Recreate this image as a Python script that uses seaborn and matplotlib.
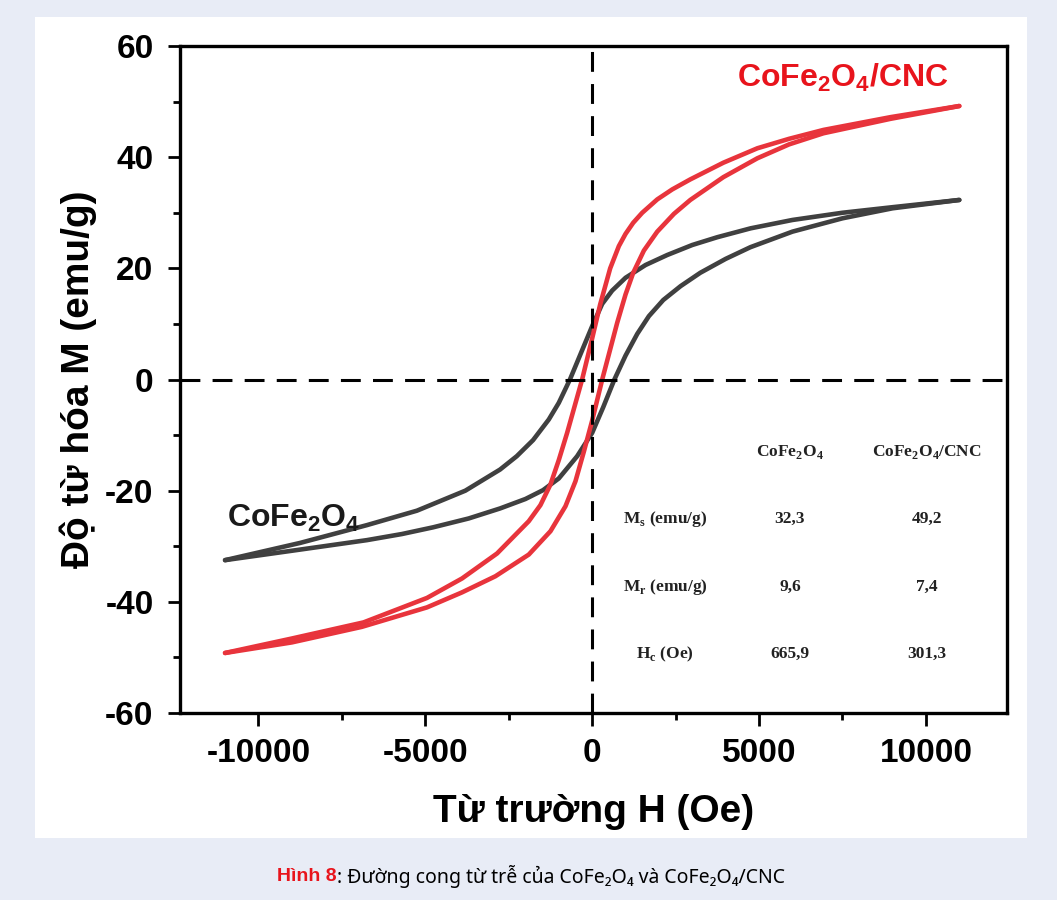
import numpy as np
import pandas as pd
import matplotlib
matplotlib.use("Agg")
import matplotlib.pyplot as plt
import seaborn as sns
from matplotlib.patches import Rectangle
from matplotlib.ticker import MultipleLocator

# ---------------- data ----------------
# CoFe2O4, descending branch (H from +11000 to -11000)
cfo_desc_H = [11000, 9000, 7500, 6000, 4750, 3750, 3000, 2250, 1600, 1000, 600, 300, 0,
              -333, -666, -1000, -1300, -1770, -2260, -2760, -3800, -5250, -6750,
              -8750, -11000]
cfo_desc_M = [32.3, 31.0, 30.0, 28.7, 27.2, 25.6, 24.2, 22.4, 20.6, 18.3, 16.0, 13.6, 9.6,
              4.8, 0.0, -4.2, -7.2, -10.9, -13.8, -16.2, -20.0, -23.6, -26.2,
              -29.4, -32.5]
# CoFe2O4, ascending branch (H from -11000 to +11000)
cfo_asc_H = [-11000, -8750, -6750, -5700, -4770, -3700, -2760, -2000, -1470, -1000,
             -450, 0, 330, 666, 1000, 1350, 1700, 2130, 2650, 3240, 4000, 4740,
             6000, 7500, 9000, 11000]
cfo_asc_M = [-32.5, -30.6, -28.9, -27.8, -26.6, -25.0, -23.2, -21.5, -19.9, -17.8,
             -13.8, -9.6, -5.0, 0.0, 4.3, 8.2, 11.4, 14.3, 16.8, 19.2, 21.7, 23.8,
             26.6, 29.0, 30.8, 32.3]
# CoFe2O4/CNC, descending branch
cnc_desc_H = [11000, 8940, 6930, 5900, 4950, 3930, 2940, 2400, 1950, 1500, 1230, 1000,
              800, 540, 240, 0, -301, -750, -1000, -1250, -1550, -1900, -2850,
              -3900, -4950, -6850, -9000, -11000]
cnc_desc_M = [49.2, 47.2, 44.9, 43.3, 41.6, 39.0, 36.0, 34.2, 32.4, 30.0, 28.2, 26.2,
              24.0, 20.0, 13.5, 7.4, 0.0, -9.6, -14.5, -18.9, -22.6, -25.5, -31.3,
              -35.8, -39.3, -43.7, -46.6, -49.2]
# CoFe2O4/CNC, ascending branch
cnc_asc_H = [-11000, -9000, -6900, -4950, -3900, -2900, -1900, -1250, -800, -500,
             -250, 0, 301, 750, 1000, 1230, 1550, 1950, 2450, 2940, 3930, 4950,
             5900, 6930, 8940, 11000]
cnc_asc_M = [-49.2, -47.3, -44.5, -41.0, -38.3, -35.4, -31.5, -27.3, -22.8, -18.3,
             -13.0, -7.4, 0.0, 10.2, 15.3, 19.2, 23.2, 26.6, 29.8, 32.3, 36.4, 39.8,
             42.3, 44.3, 46.9, 49.2]

x_ticks = [-10000, -5000, 0, 5000, 10000]
y_ticks = [-60, -40, -20, 0, 20, 40, 60]

table_cols = ["CoFe$_\\mathrm{2}$O$_\\mathrm{4}$", "CoFe$_\\mathrm{2}$O$_\\mathrm{4}$/CNC"]
table_rows = ["M$_\\mathrm{s}$ (emu/g)", "M$_\\mathrm{r}$ (emu/g)", "H$_\\mathrm{c}$ (Oe)"]
table_vals = [["32,3", "49,2"], ["9,6", "7,4"], ["665,9", "301,3"]]

# ---------------- style ----------------
sns.set_theme(style="white")
plt.rcParams["font.family"] = ["Liberation Sans", "DejaVu Sans"]
plt.rcParams["axes.unicode_minus"] = False
plt.rcParams["mathtext.fontset"] = "custom"
plt.rcParams["mathtext.rm"] = "Liberation Serif:bold"
plt.rcParams["mathtext.bf"] = "Liberation Sans:bold"

W, H = 1057, 900
fig = plt.figure(figsize=(W / 100, H / 100), dpi=100, facecolor="#e8ecf6")
fig.patches.append(Rectangle((35 / W, 62 / H), 992 / W, 821 / H,
                             transform=fig.transFigure, facecolor="white",
                             edgecolor="none", zorder=-10))
ax = fig.add_axes([180 / W, 187 / H, 827 / W, 667 / H])
ax.set_facecolor("white")
ax.set_zorder(5)

BLACK = "#404040"
RED = "#e8343c"

def branch(Hs, Ms, name):
    return pd.DataFrame({"H": Hs, "M": Ms, "branch": name})

for Hs, Ms, col in [(cfo_desc_H, cfo_desc_M, BLACK), (cfo_asc_H, cfo_asc_M, BLACK),
                    (cnc_desc_H, cnc_desc_M, RED), (cnc_asc_H, cnc_asc_M, RED)]:
    df = branch(Hs, Ms, "b")
    sns.lineplot(data=df, x="H", y="M", sort=False, estimator=None,
                 color=col, lw=3.3, ax=ax, zorder=2)
for ln in ax.lines:
    ln.set_solid_joinstyle("round")
    ln.set_solid_capstyle("round")

ax.axhline(0, color="black", lw=2.2, dashes=(6.5, 4), zorder=3)
ax.axvline(0, color="black", lw=2.2, dashes=(6.5, 4), zorder=3)

ax.set_xlim(-12350, 12430)
ax.set_ylim(-60, 60)
ax.set_xticks(x_ticks)
ax.set_yticks(y_ticks)
ax.xaxis.set_minor_locator(MultipleLocator(2500))
ax.yaxis.set_minor_locator(MultipleLocator(10))

for s in ax.spines.values():
    s.set_color("black")
    s.set_linewidth(2.4)

ax.tick_params(axis="both", which="both", direction="out", color="black",
               left=True, bottom=True, top=False, right=False, width=2.0)
ax.tick_params(axis="both", which="major", length=9, labelsize=24,
               labelcolor="black")
ax.tick_params(axis="x", which="major", pad=9)
ax.tick_params(axis="y", which="major", pad=10)
ax.tick_params(axis="both", which="minor", length=5)
for lab in ax.get_xticklabels() + ax.get_yticklabels():
    lab.set_fontweight("bold")

ax.set_xlabel("Từ trường H (Oe)", fontsize=28, fontweight="bold",
              color="black", labelpad=18)
ax.set_ylabel("Độ từ hóa M (emu/g)", fontsize=28, fontweight="bold",
              color="black", labelpad=6)

ax.text(0.8017, 0.952, "CoFe$_\\mathbf{2}$O$_\\mathbf{4}$/CNC", transform=ax.transAxes,
        color="#e8141c", fontsize=23, fontweight="bold", ha="center", va="center")
ax.text(0.138, 0.292, "CoFe$_\\mathbf{2}$O$_\\mathbf{4}$", transform=ax.transAxes,
        color="#1a1a1a", fontsize=23, fontweight="bold", ha="center", va="center")

# table of magnetic parameters
col_x = [0.7376, 0.9033]
row_y = [0.2909, 0.1889, 0.0885]
tkw = dict(transform=ax.transAxes, fontsize=12.5, fontweight="bold",
           family=["Liberation Serif", "DejaVu Serif"], color="#222222",
           ha="center", va="center")
for cx, name in zip(col_x, table_cols):
    ax.text(cx, 0.391, name, **tkw)
for ry, rname, vals in zip(row_y, table_rows, table_vals):
    ax.text(0.5865, ry, rname, **tkw)
    for cx, v in zip(col_x, vals):
        ax.text(cx, ry, v, **tkw)

# caption
t1 = fig.text(0, 0.0256, "Hình 8", color="#e8141c", fontsize=14,
              fontweight="bold", family=["Liberation Sans", "DejaVu Sans"],
              ha="left", va="center")
t2 = fig.text(0, 0.0256, ": Đường cong từ trễ của CoFe₂O₄ và CoFe₂O₄/CNC",
              color="black", fontsize=14, family=["Noto Sans", "DejaVu Sans"],
              ha="left", va="center")
fig.canvas.draw()
r = fig.canvas.get_renderer()
w1 = t1.get_window_extent(r).width
w2 = t2.get_window_extent(r).width
x0 = 531 - (w1 + w2) / 2
t1.set_x(x0 / W)
t2.set_x((x0 + w1) / W)

fig.savefig("out.png", dpi=100, facecolor=fig.get_facecolor())
